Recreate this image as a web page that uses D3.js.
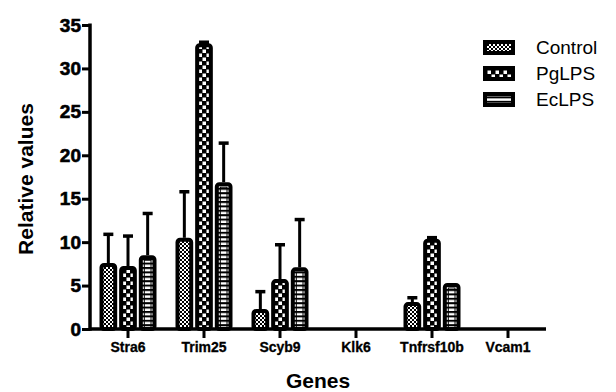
<!DOCTYPE html>
<html>
<head>
<meta charset="utf-8">
<script src="https://cdn.jsdelivr.net/npm/d3@7"></script>
<style>
  body { margin: 0; background: #fff; }
  svg text { font-family: Arial, "Liberation Sans", sans-serif; }
  .bold { font-weight: bold; }
</style>
</head>
<body>
<div id="chart"></div>
<script>
// Data
let genes = ["Stra6", "Trim25", "Scyb9", "Klk6", "Tnfrsf10b", "Vcam1"];
let groups = ["Control", "PgLPS", "EcLPS"];
let controlMean = [7.6, 10.5, 2.3, 0, 3.1, 0];
let controlErr  = [10.9, 15.8, 4.3, 0, 3.6, 0];
let pgMean      = [7.25, 32.9, 5.75, 0, 10.4, 0];
let pgErr       = [10.7, 33.2, 9.7, 0, 10.6, 0];
let ecMean      = [8.5, 16.9, 7.1, 0, 5.3, 0];
let ecErr       = [13.3, 21.4, 12.6, 0, 5.3, 0];
let yTicks = [0, 5, 10, 15, 20, 25, 30, 35];

let series = [
    {key: "Control", mean: controlMean, err: controlErr, pat: "pat-control"},
    {key: "PgLPS", mean: pgMean, err: pgErr, pat: "pat-pg"},
    {key: "EcLPS", mean: ecMean, err: ecErr, pat: "pat-ec"}
];

let W = 616, H = 392;
let margin = {top: 25, right: 70, bottom: 63, left: 90};

let svg = d3.select("#chart").append("svg")
    .attr("width", W)
    .attr("height", H);

// Patterns
let defs = svg.append("defs");

let p1 = defs.append("pattern").attr("id", "pat-control")
    .attr("patternUnits", "userSpaceOnUse").attr("width", 4).attr("height", 4);
p1.append("rect").attr("width", 4).attr("height", 4).attr("fill", "#fff");
p1.append("rect").attr("width", 2).attr("height", 2).attr("fill", "#000");
p1.append("rect").attr("x", 2).attr("y", 2).attr("width", 2).attr("height", 2).attr("fill", "#000");

let p2 = defs.append("pattern").attr("id", "pat-pg")
    .attr("patternUnits", "userSpaceOnUse").attr("width", 8).attr("height", 8);
p2.append("rect").attr("width", 8).attr("height", 8).attr("fill", "#000");
p2.append("rect").attr("x", 0.5).attr("y", 0.5).attr("width", 3.5).attr("height", 3.5).attr("fill", "#fff");
p2.append("rect").attr("x", 4.5).attr("y", 4.5).attr("width", 3.5).attr("height", 3.5).attr("fill", "#fff");

let p3 = defs.append("pattern").attr("id", "pat-ec")
    .attr("patternUnits", "userSpaceOnUse").attr("width", 4.4).attr("height", 4.4);
p3.append("rect").attr("width", 4.4).attr("height", 4.4).attr("fill", "#fff");
p3.append("rect").attr("width", 4.4).attr("height", 2).attr("fill", "#000");

let g = svg.append("g")
    .attr("transform", "translate(" + margin.left + "," + margin.top + ")");

let width = W - margin.left - margin.right;
let height = H - margin.top - margin.bottom;

// Scales
let x = d3.scaleBand().domain(genes).range([0, width]).paddingInner(0.25).paddingOuter(0.125);
let xSub = d3.scaleBand().domain(groups).range([0, x.bandwidth()]).paddingInner(0.1);
let y = d3.scaleLinear().domain([0, 35]).range([height, 0]);

// Bars
series.forEach(function(s) {
    let sg = g.append("g");
    genes.forEach(function(gene, i) {
        let v = s.mean[i];
        if (v <= 0) return;
        let bx = x(gene) + xSub(s.key);
        let bw = xSub.bandwidth();
        let cx = bx + bw / 2;
        let small = s.err[i] - v < 0.4;
        // error bar (upper only)
        if (!small) {
            sg.append("line")
                .attr("x1", cx).attr("x2", cx)
                .attr("y1", y(v)).attr("y2", y(s.err[i]))
                .attr("stroke", "#000").attr("stroke-width", 3);
        }
        if (s.err[i] > v) {
            let cy = small ? y(v) - 1 : y(s.err[i]);
            sg.append("line")
                .attr("x1", cx - 5).attr("x2", cx + 5)
                .attr("y1", cy).attr("y2", cy)
                .attr("stroke", "#000").attr("stroke-width", 3.5);
        }
        sg.append("rect")
            .attr("x", bx + 2)
            .attr("y", y(v) + 2)
            .attr("width", bw - 4)
            .attr("height", y(0) - y(v) - 2)
            .attr("rx", 2.5)
            .attr("fill", "url(#" + s.pat + ")")
            .attr("stroke", "#000")
            .attr("stroke-width", 4);
        if (s.key === "EcLPS") {
            // inner vertical edges of the striped bar
            sg.append("rect")
                .attr("x", bx + 5.5)
                .attr("y", y(v) + 5)
                .attr("width", bw - 11)
                .attr("height", Math.max(0, y(0) - y(v) - 5))
                .attr("fill", "none")
                .attr("stroke", "#000")
                .attr("stroke-width", 1);
        }
    });
});

// Axes
let yAxis = d3.axisLeft(y).tickValues(yTicks).tickSize(8).tickPadding(1);
let yG = g.append("g").call(yAxis);
yG.select(".domain").attr("stroke-width", 3.5).attr("d", "M0," + (height + 1.75) + "V-1.5");
yG.selectAll(".tick line").attr("stroke-width", 3);
yG.selectAll(".tick text")
    .attr("fill", "#000")
    .style("font-size", "19px").style("font-weight", "bold")
    .style("stroke", "#000").style("stroke-width", 0.6);

let xAxis = d3.axisBottom(x).tickSize(9).tickPadding(4);
let xG = g.append("g").attr("transform", "translate(0," + height + ")").call(xAxis);
xG.select(".domain").attr("stroke-width", 3.5).attr("d", "M0,0H" + width);
xG.selectAll(".tick line").attr("stroke-width", 3);
xG.selectAll(".tick text")
    .attr("fill", "#000")
    .style("font-size", "14px").style("font-weight", "bold")
    .style("stroke", "#000").style("stroke-width", 0.3);

// Axis titles
svg.append("text")
    .attr("class", "bold")
    .attr("transform", "translate(33," + (margin.top + height / 2 + 2) + ") rotate(-90)")
    .attr("text-anchor", "middle")
    .style("font-size", "21px")
    .text("Relative values");

svg.append("text")
    .attr("class", "bold")
    .attr("x", 318).attr("y", 388)
    .attr("text-anchor", "middle")
    .style("font-size", "21px")
    .text("Genes");

// Legend
let legend = svg.append("g").attr("transform", "translate(483,40)");
series.forEach(function(s, i) {
    let row = legend.append("g").attr("transform", "translate(0," + (i * 26) + ")");
    row.append("rect")
        .attr("x", 2).attr("y", 2)
        .attr("width", 28).attr("height", 11)
        .attr("fill", "url(#" + s.pat + ")")
        .attr("stroke", "#000").attr("stroke-width", 4);
    row.append("text")
        .attr("x", 53).attr("y", 14)
        .style("font-size", "19px")
        .text(s.key);
});
</script>
</body>
</html>
